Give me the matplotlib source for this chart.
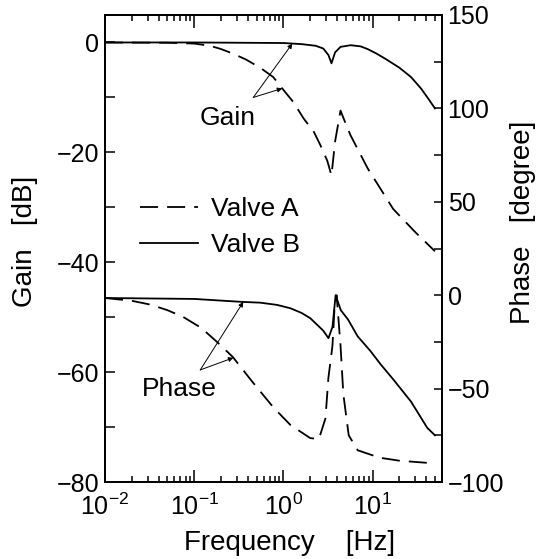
import numpy as np
import matplotlib
matplotlib.use("Agg")
import matplotlib.pyplot as plt
from matplotlib.ticker import MultipleLocator, LogLocator, NullFormatter

plt.rcParams["font.family"] = ["Liberation Sans", "DejaVu Sans"]
plt.rcParams["mathtext.fontset"] = "custom"
plt.rcParams["mathtext.rm"] = "Liberation Sans"
plt.rcParams["mathtext.it"] = "Liberation Sans:italic"
plt.rcParams["font.size"] = 18

# gain [dB], valve A (dashed)
gain_a_freq = [0.01, 0.05, 0.1, 0.15, 0.2, 0.27, 0.38, 0.55, 0.77, 0.93, 1.3,
               1.68, 2.2, 2.6, 3.1, 3.46, 3.8, 4.37, 5.0, 5.66, 8.8, 17, 30, 50]
gain_a_db = [0, -0.05, -0.2, -0.6, -1.2, -2.0, -3.1, -4.6, -6.3, -8.0, -10.9,
             -13.8, -16.3, -18.7, -21.5, -24.2, -18.0, -12.4, -14.8, -16.9,
             -22.9, -30.3, -34.5, -38.0]

# gain [dB], valve B (solid)
gain_b_freq = [0.01, 0.1, 1.0, 1.6, 2.3, 2.8, 3.2, 3.46, 3.8, 4.37, 5.66,
               7.3, 8.8, 11, 14, 20, 27, 35, 42, 50]
gain_b_db = [0, 0, -0.1, -0.3, -0.6, -1.1, -2.3, -3.8, -1.8, -0.8, -0.5,
             -0.7, -1.2, -2.0, -3.0, -4.6, -6.3, -8.4, -10.2, -12.0]

# phase [degree], valve A (dashed)
phase_a_freq = [0.01, 0.02, 0.032, 0.05, 0.075, 0.12, 0.18, 0.27, 0.46, 0.77,
                1.2, 2.0, 2.5, 2.96, 3.2, 3.55, 3.75, 3.95, 4.37, 4.7, 5.4,
                6.8, 12, 20, 48]
phase_a_deg = [-1.5, -3, -5, -8, -11.6, -17.5, -25, -33, -47, -60,
               -69.5, -76.5, -77, -66, -44, -27, -6, 0, -27, -53, -75,
               -83, -87, -88.6, -90]

# phase [degree], valve B (solid)
phase_b_freq = [0.01, 0.1, 0.35, 0.55, 0.85, 1.2, 1.6, 2.0, 2.8, 3.2, 3.55,
                3.85, 4.4, 5.3, 6.8, 9.5, 12.3, 17, 27, 41, 50]
phase_b_deg = [-1.5, -2, -3.6, -4, -5.2, -7, -9.5, -12.3, -19, -23, -17,
               0, -8, -13, -22, -30, -37, -45, -57, -71, -75]

fig = plt.figure(figsize=(5.43, 5.59), dpi=100)
ax = fig.add_axes([105 / 543, 1 - 482 / 559, 337 / 543, 467 / 559])
ax2 = ax.twinx()

ln_a, = ax.plot(gain_a_freq, gain_a_db, color="black", lw=1.3,
                dashes=(10, 5), label="Valve A")
ln_b, = ax.plot(gain_b_freq, gain_b_db, color="black", lw=1.3, label="Valve B")
ax2.plot(phase_a_freq, phase_a_deg, color="black", lw=1.3, dashes=(10, 5))
ax2.plot(phase_b_freq, phase_b_deg, color="black", lw=1.3)

ax.set_xscale("log")
ax.set_xlim(0.01, 60)
ax.set_ylim(-80, 5)
ax2.set_ylim(-100, 150)

ax.set_yticks([0, -20, -40, -60, -80])
ax.yaxis.set_minor_locator(MultipleLocator(10))
ax2.set_yticks([-100, -50, 0, 50, 100, 150])
ax2.yaxis.set_minor_locator(MultipleLocator(25))
ax.xaxis.set_major_locator(LogLocator(base=10, numticks=10))
ax.xaxis.set_minor_locator(LogLocator(base=10, subs=np.arange(2, 10), numticks=20))
ax.xaxis.set_minor_formatter(NullFormatter())

ax.tick_params(axis="x", which="both", direction="in", top=True, width=1.1)
ax.tick_params(axis="x", which="major", length=9, pad=8)
ax.tick_params(axis="x", which="minor", length=4)
ax.tick_params(axis="y", which="both", direction="in", length=7, width=1.1,
               right=False, pad=4)
ax2.tick_params(axis="y", which="both", direction="in", length=6, width=1.1, pad=4)
for a in (ax, ax2):
    for s in a.spines.values():
        s.set_linewidth(1.3)

ax.set_ylabel("Gain   [dB]", fontsize=20)
ax.yaxis.set_label_coords(-0.237, 0.516)
ax.yaxis.label.set_va("center")
ax2.set_ylabel("Phase   [degree]", fontsize=20)
ax2.yaxis.set_label_coords(1.24, 0.557)
ax2.yaxis.label.set_va("center")
ax.set_xlabel("Frequency    [Hz]", fontsize=20)
ax.xaxis.set_label_coords(0.549, -0.131)
ax.xaxis.label.set_va("center")

leg = ax2.legend([ln_a, ln_b], ["Valve A", "Valve B"], frameon=False,
                 loc="upper left", bbox_to_anchor=(0.104, 0.61),
                 borderaxespad=0, borderpad=0, handlelength=2.2,
                 handletextpad=0.5, labelspacing=0.45, fontsize=19)

arrow = dict(arrowstyle="-|>", lw=0.7, color="black", mutation_scale=7,
             shrinkA=0, shrinkB=0)


def curve_at(freq, vals, f):
    return np.interp(np.log10(f), np.log10(freq), vals)


# gain annotation
ax.text(0.24, -13.8, "Gain", ha="center", va="center", fontsize=19)
for f, fx, fy in [(1.26, gain_b_freq, gain_b_db), (0.97, gain_a_freq, gain_a_db)]:
    ax.annotate("", xy=(f, curve_at(fx, fy, f)), xytext=(0.46, -10),
                arrowprops=arrow)

# phase annotation
ax2.text(0.068, -50, "Phase", ha="center", va="center", fontsize=19)
for f, fx, fy in [(0.355, phase_b_freq, phase_b_deg), (0.275, phase_a_freq, phase_a_deg)]:
    ax2.annotate("", xy=(f, curve_at(fx, fy, f)), xytext=(0.117, -40),
                 arrowprops=arrow)

fig.savefig("out.png", dpi=100)
